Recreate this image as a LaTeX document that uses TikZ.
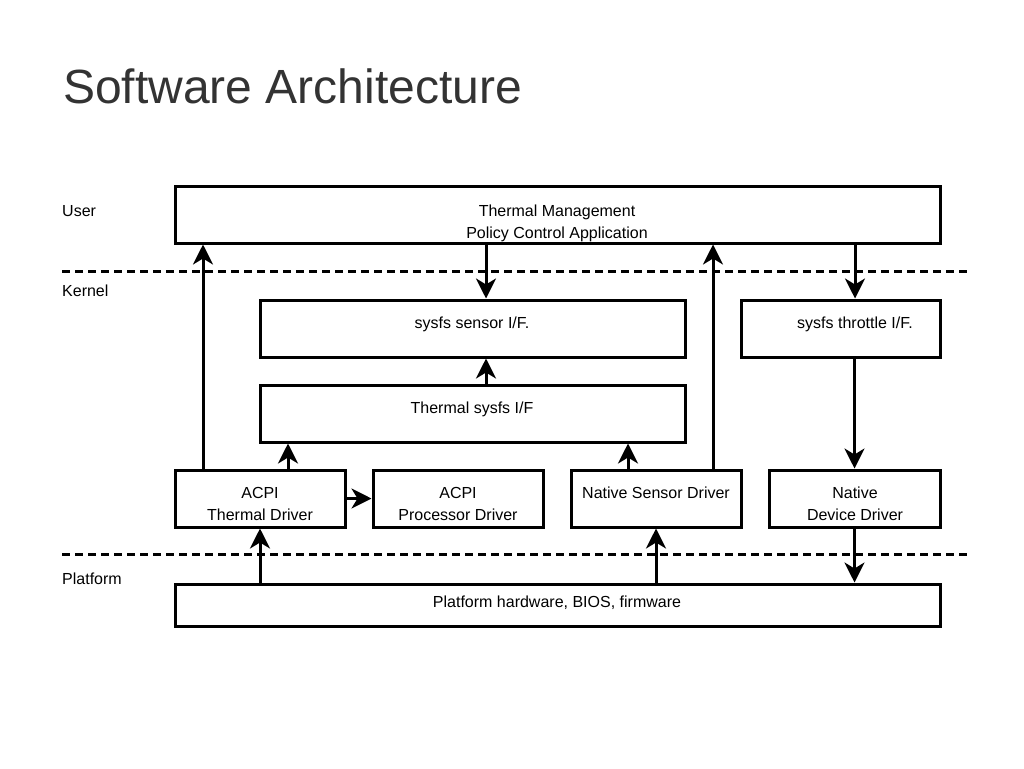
\documentclass[tikz,border=0pt]{standalone}
\usepackage{fontspec}
\setmainfont{Liberation Sans}
\usetikzlibrary{arrows.meta}
\definecolor{titlegray}{HTML}{333333}
\begin{document}
\begin{tikzpicture}[x=1pt,y=-1pt,
  box/.style={draw=black, line width=3pt, rectangle, anchor=north west, inner sep=0pt, xshift=-1.5pt, yshift=1.5pt},
  lbl/.style={font=\fontsize{16}{22}\selectfont, anchor=base, inner sep=0pt},
  side/.style={font=\fontsize{16}{22}\selectfont, anchor=base west, inner sep=0pt},
  arr/.style={-{Stealth[length=20pt,width=20pt,inset=6pt]}, line width=3pt},
  sep/.style={dash pattern=on 8pt off 5pt, line width=3pt}]
\useasboundingbox[fill=white] (0,0) rectangle (1024,768);

% title
\node[font=\fontsize{48}{56}\selectfont, text=titlegray, anchor=base west, inner sep=0pt] (title) at (63,103) {Software Architecture};

% layer labels
\node[side] (user) at (62,216) {User};
\node[side] (kernel) at (62,296) {Kernel};
\node[side] (platlbl) at (62,584) {Platform};

% separators
\draw[sep] (62,271) -- (968,271);
\draw[sep] (62,554) -- (968,554);

% boxes
\node[box, minimum width=765pt, minimum height=57pt] (tm) at (175,186) {};
\node[box, minimum width=425pt, minimum height=57pt] (sensor) at (260,300) {};
\node[box, minimum width=199pt, minimum height=57pt] (throttle) at (741,300) {};
\node[box, minimum width=425pt, minimum height=57pt] (tsysfs) at (260,385) {};
\node[box, minimum width=170pt, minimum height=57pt] (acpit) at (175,470) {};
\node[box, minimum width=170pt, minimum height=57pt] (acpip) at (373,470) {};
\node[box, minimum width=170pt, minimum height=57pt] (nsd) at (571,470) {};
\node[box, minimum width=171pt, minimum height=57pt] (ndd) at (769,470) {};
\node[box, minimum width=765pt, minimum height=42pt] (plat) at (175,584) {};

% texts
\node[lbl] (tm1) at (557,216) {Thermal Management};
\node[lbl] (tm2) at (557,238) {Policy Control Application};
\node[lbl] (sensort) at (472,328) {sysfs sensor I/F.};
\node[lbl] (throttlet) at (855,328) {sysfs throttle I/F.};
\node[lbl] (tsysfst) at (472,413) {Thermal sysfs I/F};
\node[lbl] (acpit1) at (260,498) {ACPI};
\node[lbl] (acpit2) at (260,520) {Thermal Driver};
\node[lbl] (acpip1) at (458,498) {ACPI};
\node[lbl] (acpip2) at (458,520) {Processor Driver};
\node[lbl] (nsdt) at (656,498) {Native Sensor Driver};
\node[lbl] (ndd1) at (855,498) {Native};
\node[lbl] (ndd2) at (855,520) {Device Driver};
\node[lbl] (platt) at (557,607) {Platform hardware, BIOS, firmware};

% arrows
\draw[arr] ([xshift=29.5pt]acpit.north west) -- ([xshift=29.5pt]acpit.north west |- tm.south);
\draw[arr] ([xshift=227.5pt]sensor.north west |- tm.south) -- ([xshift=227.5pt]sensor.north west);
\draw[arr] ([xshift=143.5pt]nsd.north west) -- ([xshift=143.5pt]nsd.north west |- tm.south);
\draw[arr] ([xshift=115.5pt]throttle.north west |- tm.south) -- ([xshift=115.5pt]throttle.north west);
\draw[arr] (ndd.north |- throttle.south) -- (ndd.north);
\draw[arr] ([xshift=227.5pt]tsysfs.north west) -- ([xshift=227.5pt]tsysfs.north west |- sensor.south);
\draw[arr] ([xshift=114.5pt]acpit.north west) -- ([xshift=114.5pt]acpit.north west |- tsysfs.south);
\draw[arr] ([xshift=58.5pt]nsd.north west) -- ([xshift=58.5pt]nsd.north west |- tsysfs.south);
\draw[arr] (acpit.east) -- (acpip.west);
\draw[arr] (acpit.south |- plat.north) -- (acpit.south);
\draw[arr] (nsd.south |- plat.north) -- (nsd.south);
\draw[arr] (ndd.south) -- (ndd.south |- plat.north);
\end{tikzpicture}
\end{document}
